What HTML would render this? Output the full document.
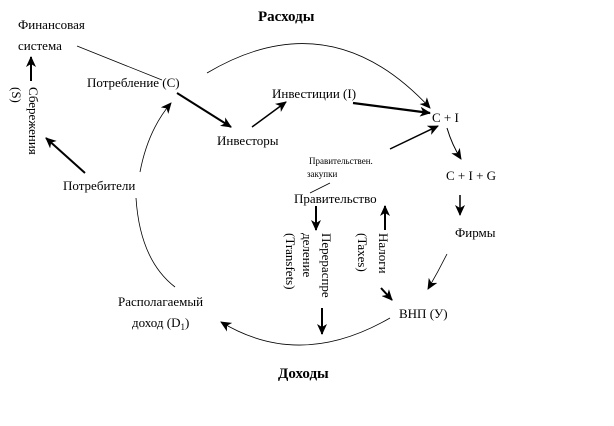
<!DOCTYPE html>
<html><head><meta charset="utf-8"><style>
html,body{margin:0;padding:0;background:#fff;}
svg{display:block;}
text{font-family:"Liberation Serif","DejaVu Serif",serif;fill:#000;}
</style></head><body>
<svg width="614" height="426" viewBox="0 0 614 426" xmlns="http://www.w3.org/2000/svg">
<defs>
<marker id="a" markerWidth="11" markerHeight="10" refX="10" refY="5" orient="auto" markerUnits="userSpaceOnUse">
<path d="M0,0 L11,5 L0,10 L3,5 Z" fill="#000"/></marker>
</defs>
<g font-size="13">
<text x="258" y="21" font-size="15" font-weight="bold">Расходы</text>
<text x="18" y="29">Финансовая</text>
<text x="18" y="50">система</text>
<text x="87" y="87">Потребление (С)</text>
<text x="272" y="98">Инвестиции (I)</text>
<text x="432" y="122">С + I</text>
<text x="217" y="145">Инвесторы</text>
<text x="309" y="164" font-size="9">Правительствен.</text>
<text x="307" y="177" font-size="9">закупки</text>
<text x="446" y="180">С + I + G</text>
<text x="63" y="190">Потребители</text>
<text x="294" y="203">Правительство</text>
<text x="455" y="237">Фирмы</text>
<text x="118" y="306">Располагаемый</text>
<text x="132" y="327">доход (D<tspan font-size="9" dy="3">1</tspan><tspan dy="-3">)</tspan></text>
<text x="399" y="318">ВНП (У)</text>
<text x="278" y="378" font-size="15" font-weight="bold">Доходы</text>
<text transform="translate(29,87) rotate(90)">Сбережения</text>
<text transform="translate(12,87) rotate(90)">(S)</text>
<text transform="translate(322,233) rotate(90)">Перераспре</text>
<text transform="translate(303,233) rotate(90)">деление</text>
<text transform="translate(286,233) rotate(90)">(Transfets)</text>
<text transform="translate(379,233) rotate(90)">Налоги</text>
<text transform="translate(358,233) rotate(90)">(Taxes)</text>
</g>
<g fill="none" stroke="#000">
<line x1="77" y1="46" x2="162" y2="80" stroke-width="0.8"/>
<line x1="31" y1="81" x2="31" y2="57" stroke-width="2" marker-end="url(#a)"/>
<line x1="85" y1="173" x2="46" y2="138" stroke-width="2" marker-end="url(#a)"/>
<path d="M140,172 Q148,130 171,103" stroke-width="0.8" marker-end="url(#a)"/>
<path d="M207,73 Q330,0 430,108" stroke-width="0.8" marker-end="url(#a)"/>
<line x1="177" y1="93" x2="231" y2="127" stroke-width="2" marker-end="url(#a)"/>
<line x1="252" y1="127" x2="286" y2="102" stroke-width="1.5" marker-end="url(#a)"/>
<line x1="353" y1="103" x2="430" y2="113" stroke-width="2.2" marker-end="url(#a)"/>
<line x1="390" y1="149" x2="438" y2="126" stroke-width="1.5" marker-end="url(#a)"/>
<path d="M447,128 Q452,145 461,159" stroke-width="1" marker-end="url(#a)"/>
<line x1="460" y1="195" x2="460" y2="215" stroke-width="1.5" marker-end="url(#a)"/>
<path d="M447,254 Q438,272 428,289" stroke-width="0.8" marker-end="url(#a)"/>
<path d="M390,318 Q300,370 221,322" stroke-width="0.8" marker-end="url(#a)"/>
<path d="M136,198 Q140,260 175,287" stroke-width="0.8"/>
<line x1="316" y1="206" x2="316" y2="230" stroke-width="2" marker-end="url(#a)"/>
<line x1="385" y1="230" x2="385" y2="206" stroke-width="2" marker-end="url(#a)"/>
<line x1="381" y1="288" x2="392" y2="300" stroke-width="2" marker-end="url(#a)"/>
<line x1="322" y1="308" x2="322" y2="334" stroke-width="2" marker-end="url(#a)"/>
<line x1="330" y1="183" x2="310" y2="193" stroke-width="0.8"/>
</g>
</svg>
</body></html>
